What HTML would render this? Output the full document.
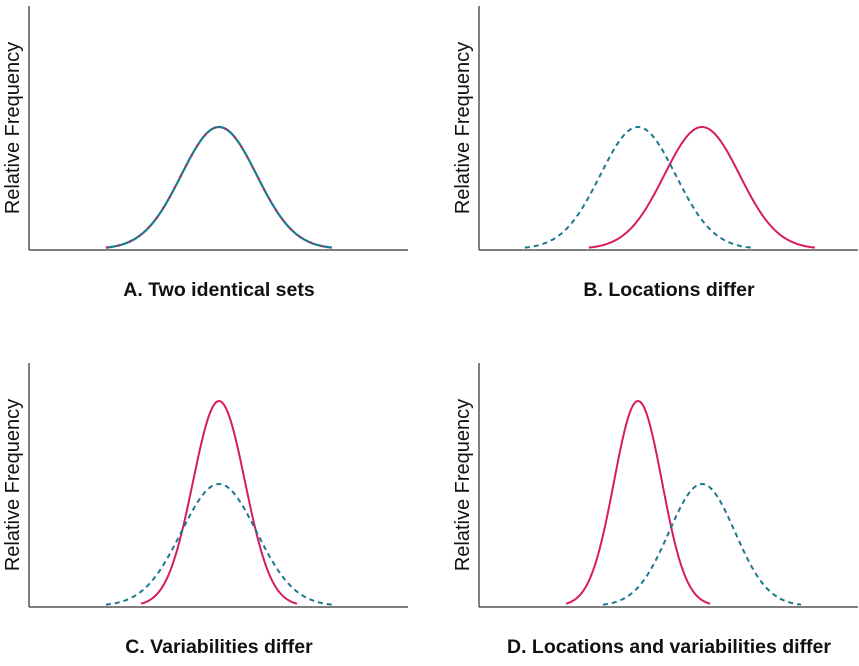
<!DOCTYPE html>
<html><head><meta charset="utf-8"><style>
body{margin:0;background:#fff;}
svg text{font-family:"Liberation Sans",sans-serif;fill:#111;}
</style></head><body>
<svg id="c" width="859" height="661"></svg>
<script>
const panelTitles=["A. Two identical sets","B. Locations differ","C. Variabilities differ","D. Locations and variabilities differ"];
const pinkMeans=[190,223,190,159];
const pinkSds=[37.7,37.7,26,24];
const pinkPeaks=[122,122,205,205];
const tealMeans=[190,159,190,223];
const tealSds=[37.7,37.7,37.7,33];
const tealPeaks=[122,122,122,122];
const panels=[{l:29,b:250,t:6},{l:479,b:250,t:6},{l:29,b:607,t:363},{l:479,b:607,t:363}];
const svg=document.getElementById('c');const NS='http://www.w3.org/2000/svg';
function mk(t,a){const e=document.createElementNS(NS,t);for(const k in a)e.setAttribute(k,a[k]);svg.appendChild(e);return e;}
function curve(p,m,s,h){let d='';for(let x=m-3*s;x<=m+3*s+0.01;x+=1){const y=h*Math.exp(-0.5*((x-m)/s)**2);d+=(d?'L':'M')+(p.l+x).toFixed(1)+' '+(p.b-1-y).toFixed(1);}return d;}
panels.forEach((p,i)=>{
 let e=mk('line',{x1:p.l,y1:p.t,x2:p.l,y2:p.b,stroke:'#555','stroke-width':1.5});
 
 e=mk('line',{x1:p.l,y1:p.b,x2:p.l+379,y2:p.b,stroke:'#555','stroke-width':1.5});
 
 const cy=p.t+122;
 e=mk('text',{x:0,y:0,'font-size':20,'text-anchor':'middle',transform:`translate(${p.l-10},${cy}) rotate(-90)`});
 e.textContent='Relative Frequency';
 
 e=mk('text',{x:p.l+190,y:p.b+46,'font-size':19.5,'font-weight':'bold','text-anchor':'middle'});
 e.textContent=panelTitles[i];
 
 if(i===0){
  e=mk('path',{d:curve(p,tealMeans[i],tealSds[i],tealPeaks[i]),fill:'none',stroke:'#1a7a8c','stroke-width':2.2});
  
  e=mk('path',{d:curve(p,pinkMeans[i],pinkSds[i],pinkPeaks[i]),fill:'none',stroke:'#d81b60','stroke-width':2.2,'stroke-dasharray':'2 10'});
  
 }else{
  e=mk('path',{d:curve(p,pinkMeans[i],pinkSds[i],pinkPeaks[i]),fill:'none',stroke:'#d81b60','stroke-width':2});
  
  e=mk('path',{d:curve(p,tealMeans[i],tealSds[i],tealPeaks[i]),fill:'none',stroke:'#1a7a8c','stroke-width':2,'stroke-dasharray':'5 4'});
  
 }
});
</script>
</body></html>
